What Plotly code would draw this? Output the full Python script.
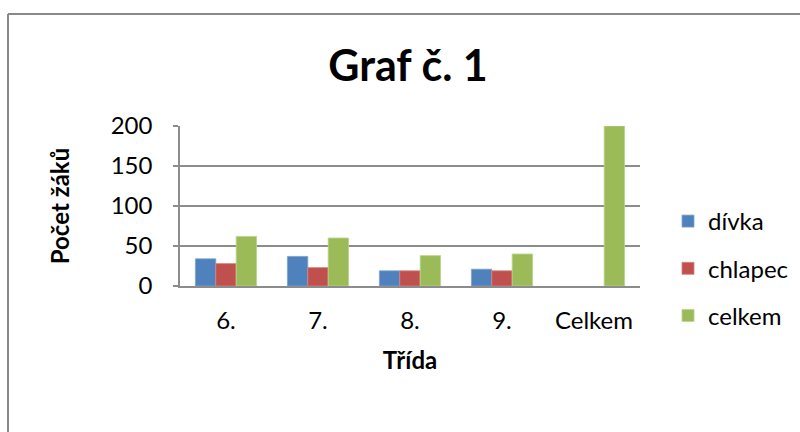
import plotly.graph_objects as go

categories = ["6.", "7.", "8.", "9.", "Celkem"]
divka = [34, 37, 19, 21, None]
chlapec = [28, 23, 19, 19, None]
celkem = [62, 60, 38, 40, 200]

W, H = 800, 432
L, R, T, B = 180, 160, 126, 146
pw, ph = W - L - R, H - T - B

def px(x):
    return (x - L) / pw

def py(y):
    return (H - B - y) / ph

FONT = "Lato"
fig = go.Figure()
for name, vals, col, edge in [
    ("dívka", divka, "#4F81BD", "#7FA3D0"),
    ("chlapec", chlapec, "#C0504D", "#D68280"),
    ("celkem", celkem, "#9BBB59", "#BBD38A"),
]:
    fig.add_trace(go.Bar(x=categories, y=vals, name=name, legendgroup=name,
                         marker=dict(color=col, line=dict(color=edge, width=0.8))))

fig.update_layout(
    width=W, height=H,
    margin=dict(l=L, r=R, t=T, b=B, autoexpand=False),
    paper_bgcolor="white", plot_bgcolor="white",
    barmode="group", bargap=0.335, bargroupgap=0,
    font=dict(family=FONT, size=24, color="black"),
    title=dict(text="<b>Graf č. 1</b>", x=0.51, xanchor="center", y=1 - 66 / H, yanchor="middle",
               font=dict(family=FONT, size=43, color="black")),
    legend=dict(x=px(668), y=py(199), xanchor="left", yanchor="top",
                font=dict(family=FONT, size=24), tracegroupgap=13,
                itemwidth=30, bgcolor="rgba(0,0,0,0)"),
    showlegend=True,
)
fig.update_xaxes(
    showline=True, linecolor="#8C8C8C", linewidth=1.6, ticks="",
    showgrid=False, ticklabelstandoff=12,
    title=dict(text="<b>Třída</b>", font=dict(family=FONT, size=24), standoff=20),
)
fig.update_yaxes(
    range=[0, 200], tickvals=[0, 50, 100, 150, 200],
    showline=True, linecolor="#8C8C8C", linewidth=1.6,
    ticks="outside", ticklen=5, tickcolor="#8C8C8C", tickwidth=1.6,
    showgrid=True, gridcolor="#8C8C8C", gridwidth=1.6,
    zeroline=False, ticklabelstandoff=16,
    title=dict(text="<b>Počet žáků</b>", font=dict(family=FONT, size=24), standoff=34),
)
fig.add_shape(type="line", xref="paper", yref="paper", x0=px(8), x1=px(W + 5), y0=py(14), y1=py(14),
              line=dict(color="#898989", width=2))
fig.add_shape(type="line", xref="paper", yref="paper", x0=px(8), x1=px(8), y0=py(14), y1=py(H + 5),
              line=dict(color="#898989", width=2))
fig.write_html("out.html", config={"displayModeBar": False},
               post_script="document.body.style.margin='0';")
